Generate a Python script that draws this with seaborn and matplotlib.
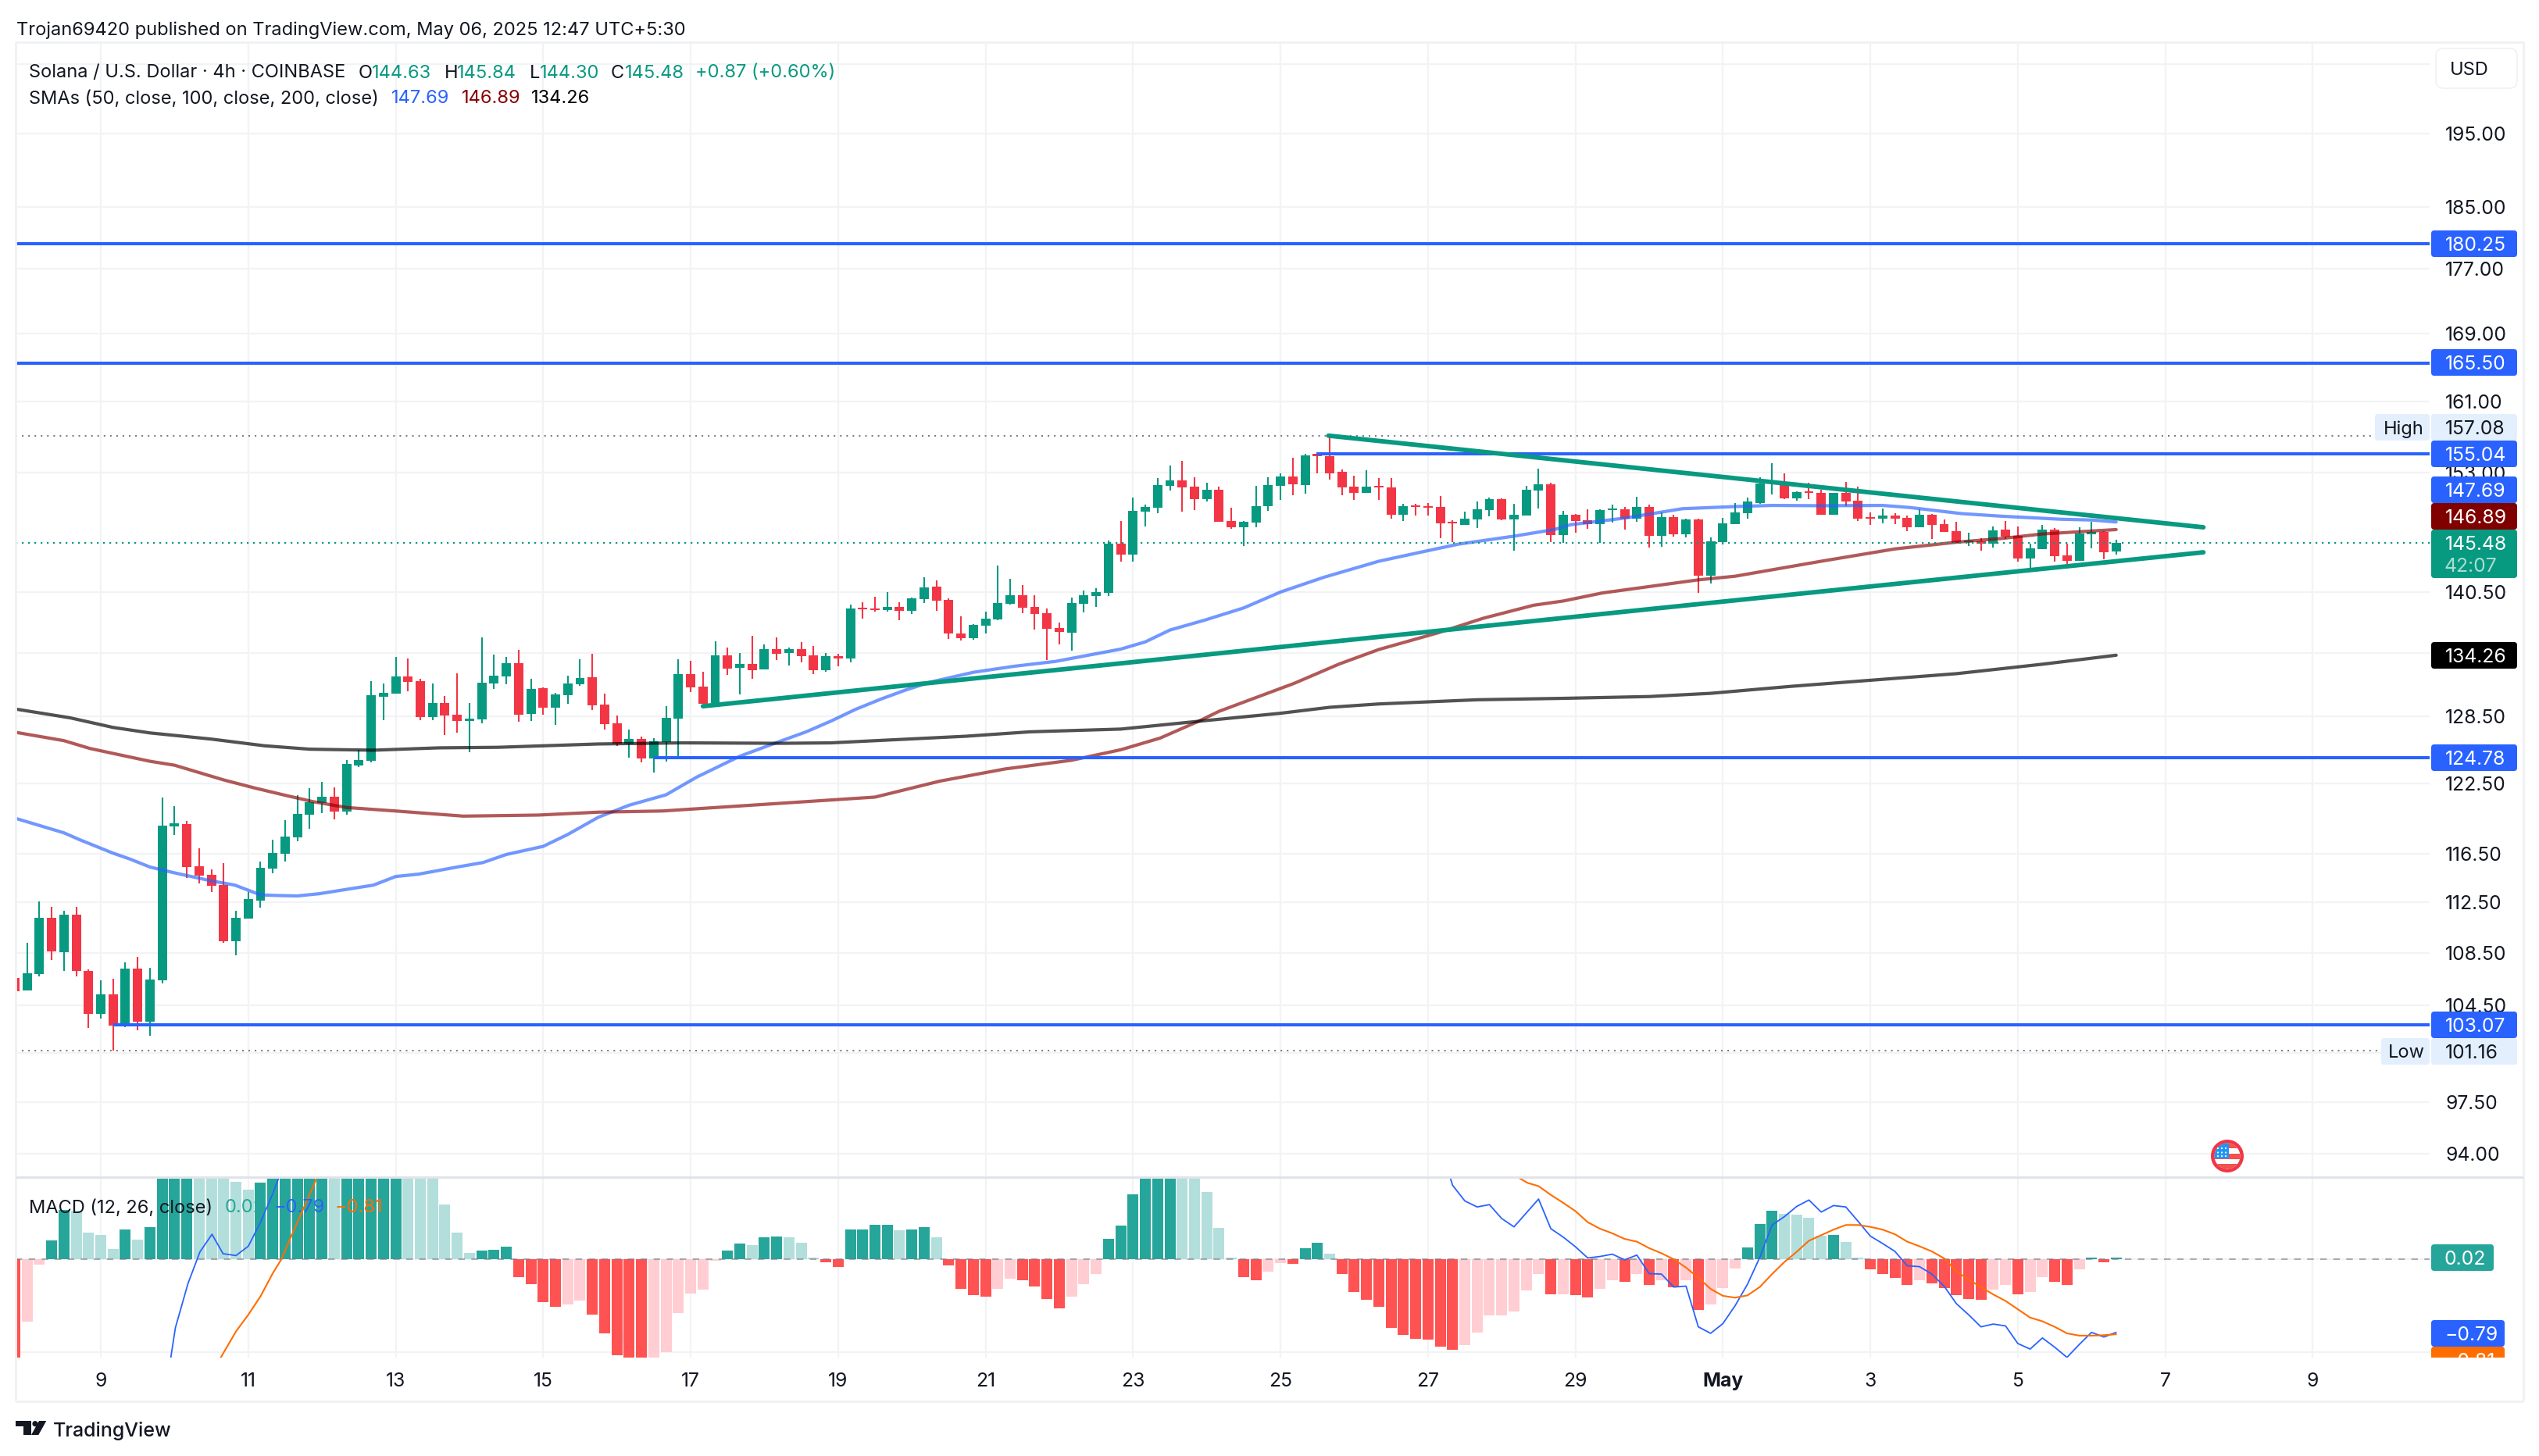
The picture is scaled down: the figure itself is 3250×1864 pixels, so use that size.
import matplotlib
matplotlib.use("Agg")
import matplotlib.pyplot as plt
import numpy as np
import pandas as pd
import seaborn as sns
from matplotlib.patches import Circle, FancyBboxPatch, Polygon, Rectangle
from matplotlib.ticker import NullLocator

# 4h candles, first one is index -7, index 0 is the bar on the "9" gridline
bar_index = list(range(-7, 165))
candle_open = [
    106.59, 105.63, 106.88, 111.26, 108.55, 111.51, 107.12, 103.86, 105.32, 103.03,
    107.28, 103.29, 106.40, 118.77, 118.98, 115.44, 114.72, 113.90, 109.42, 111.20,
    112.63, 115.24, 116.47, 117.86, 119.78, 120.77, 121.31, 120.05, 124.07, 124.47,
    130.34, 130.63, 132.24, 131.80, 128.45, 129.74, 128.64, 128.06, 128.22, 131.57,
    132.24, 133.49, 128.74, 131.15, 129.33, 130.47, 131.50, 132.17, 129.62, 127.87,
    126.06, 126.44, 124.69, 126.16, 128.29, 132.47, 131.28, 129.74, 134.26, 133.06,
    133.43, 132.90, 134.86, 134.48, 134.86, 134.25, 132.84, 134.18, 133.95, 138.92,
    138.84, 138.68, 138.99, 138.60, 139.77, 141.02, 139.70, 136.37, 135.92, 137.14,
    137.75, 139.30, 140.16, 138.99, 138.37, 136.92, 136.46, 139.30, 140.08, 140.39,
    145.43, 144.29, 148.80, 149.21, 151.56, 152.16, 151.48, 150.14, 151.14, 147.80,
    147.14, 147.64, 149.38, 151.56, 152.59, 151.65, 155.03, 154.85, 153.08, 151.48,
    150.80, 151.56, 151.39, 148.46, 149.46, 149.38, 149.30, 147.72, 147.39, 147.97,
    148.96, 150.14, 147.97, 148.38, 151.05, 151.73, 146.30, 148.44, 147.87, 147.45,
    148.95, 149.03, 148.03, 149.28, 146.22, 148.20, 146.38, 147.95, 142.12, 145.57,
    147.45, 148.61, 149.70, 151.79, 151.79, 150.20, 150.95, 150.78, 148.44, 150.78,
    149.95, 148.17, 148.03, 148.36, 148.11, 147.12, 148.44, 147.45, 146.70, 145.57,
    145.65, 145.40, 146.87, 146.22, 143.88, 144.84, 146.87, 144.20, 143.64, 146.38, 146.63, 144.63,
]
candle_high = [
    106.80, 109.28, 112.57, 112.13, 111.82, 112.13, 107.23, 106.40, 106.51, 107.77,
    108.20, 107.36, 121.25, 120.50, 119.25, 116.92, 115.18, 115.70, 111.82, 113.33,
    115.82, 117.65, 119.30, 121.46, 122.07, 122.63, 122.13, 124.54, 125.50, 131.80,
    131.57, 134.09, 133.96, 132.00, 131.57, 130.40, 132.53, 129.74, 135.98, 134.33,
    134.09, 134.76, 132.00, 131.21, 130.70, 132.30, 133.86, 134.40, 130.63, 128.58,
    127.30, 126.66, 126.56, 129.45, 133.86, 133.72, 132.70, 135.60, 135.00, 134.46,
    136.16, 135.30, 135.98, 135.00, 135.54, 135.16, 134.48, 134.40, 139.23, 139.47,
    140.00, 140.47, 139.47, 139.93, 141.98, 141.65, 139.85, 138.07, 137.30, 138.53,
    143.16, 141.82, 141.18, 140.16, 138.84, 137.45, 139.93, 140.62, 140.86, 145.76,
    147.80, 150.30, 149.55, 152.42, 153.79, 154.31, 152.50, 151.90, 151.48, 149.21,
    147.80, 151.56, 152.50, 152.93, 154.60, 155.03, 155.10, 157.08, 153.35, 152.67,
    153.27, 152.42, 152.42, 149.63, 149.63, 149.71, 150.47, 147.88, 148.80, 149.88,
    150.30, 150.22, 149.63, 151.56, 153.45, 151.90, 148.86, 148.53, 149.03, 149.03,
    149.53, 149.28, 150.38, 149.53, 148.70, 148.44, 148.03, 148.03, 146.06, 148.11,
    149.70, 150.29, 152.48, 154.03, 152.92, 150.95, 151.87, 151.12, 150.78, 151.96,
    151.46, 148.70, 149.11, 148.61, 148.36, 149.03, 148.53, 147.95, 147.70, 146.55,
    145.98, 147.20, 147.78, 147.20, 145.40, 147.37, 147.04, 145.40, 147.12, 147.70, 146.70, 145.84,
]
candle_low = [
    105.50, 105.63, 106.67, 107.95, 107.12, 106.67, 102.83, 103.52, 101.16, 102.88,
    102.67, 102.27, 106.17, 118.05, 114.47, 114.04, 113.33, 109.28, 108.30, 111.20,
    112.10, 114.87, 115.82, 117.54, 118.56, 119.90, 119.36, 119.78, 123.92, 124.35,
    128.16, 130.63, 130.86, 128.16, 128.16, 126.80, 127.00, 125.25, 127.87, 131.05,
    131.50, 128.00, 128.06, 128.64, 127.71, 129.68, 131.34, 129.10, 127.30, 125.84,
    124.75, 124.35, 123.45, 124.41, 124.91, 130.76, 129.68, 129.68, 132.40, 130.56,
    132.00, 132.90, 133.80, 133.30, 133.58, 132.47, 132.70, 133.20, 133.58, 137.83,
    138.53, 138.53, 137.68, 138.30, 139.38, 138.60, 135.85, 135.70, 135.77, 136.37,
    137.68, 139.23, 138.37, 136.76, 133.80, 135.31, 134.70, 138.45, 138.99, 140.08,
    143.56, 143.56, 147.22, 148.63, 151.05, 148.80, 148.96, 149.88, 147.72, 146.98,
    145.18, 147.14, 148.88, 150.05, 150.55, 150.72, 152.96, 152.27, 150.55, 150.05,
    150.80, 150.05, 148.05, 147.80, 148.38, 148.38, 146.00, 145.60, 147.39, 147.05,
    148.30, 147.88, 144.70, 148.38, 149.13, 145.60, 145.48, 146.55, 146.96, 145.48,
    147.61, 146.87, 147.70, 145.00, 145.08, 146.14, 146.06, 140.38, 141.32, 145.32,
    147.45, 148.03, 149.62, 150.63, 150.12, 149.95, 150.12, 148.44, 148.44, 149.37,
    147.78, 147.37, 147.53, 147.45, 146.70, 147.12, 145.90, 146.63, 145.48, 145.16,
    144.68, 145.00, 145.90, 143.56, 142.92, 144.84, 143.56, 143.32, 143.64, 144.92, 143.80, 144.30,
]
candle_close = [
    105.55, 106.93, 111.26, 108.63, 111.51, 107.12, 103.86, 105.32, 103.03, 107.28,
    103.29, 106.46, 118.83, 119.04, 115.38, 114.67, 113.84, 109.42, 111.26, 112.77,
    115.30, 116.53, 117.92, 119.84, 120.86, 121.31, 120.05, 124.20, 124.54, 130.47,
    130.70, 132.24, 131.70, 128.45, 129.74, 128.58, 128.06, 128.29, 131.64, 132.30,
    133.49, 128.64, 131.05, 129.33, 130.56, 131.57, 132.10, 129.52, 127.80, 126.06,
    126.44, 124.69, 126.22, 128.35, 132.47, 131.21, 129.68, 134.26, 133.00, 133.43,
    132.83, 134.86, 134.40, 134.86, 134.18, 132.84, 134.18, 133.95, 138.84, 138.76,
    138.68, 138.99, 138.60, 139.85, 140.94, 139.62, 136.37, 135.92, 137.22, 137.83,
    139.38, 140.16, 138.92, 138.30, 136.84, 136.54, 139.38, 140.16, 140.47, 145.43,
    144.29, 148.88, 149.30, 151.65, 152.16, 151.39, 150.14, 151.14, 147.72, 147.14,
    147.72, 149.38, 151.65, 152.59, 151.73, 154.94, 154.85, 152.88, 151.39, 150.80,
    151.48, 151.39, 148.46, 149.38, 149.30, 149.21, 147.55, 147.55, 148.05, 149.05,
    150.14, 147.97, 148.46, 151.14, 151.73, 146.33, 148.44, 147.78, 147.45, 148.95,
    149.11, 148.03, 149.28, 146.22, 148.20, 146.38, 147.95, 142.12, 145.65, 147.53,
    148.70, 149.87, 151.79, 152.05, 150.20, 150.87, 150.78, 148.44, 150.78, 149.87,
    148.03, 148.03, 148.36, 148.03, 147.12, 148.44, 147.37, 146.63, 145.48, 145.73,
    145.40, 146.79, 146.14, 143.88, 144.92, 146.87, 144.13, 143.64, 146.47, 146.63, 144.52, 145.48,
]

# moving averages, read at knots along each curve
sma50_x = [-7, -3, -1.7, 1, 2.35, 4, 6, 9, 10.9, 13, 14.5, 16, 17.8, 20, 22.2, 24, 25.9, 29, 31.1, 33, 36, 38,
           40.5, 43, 46, 48.5, 52, 55.4, 57.4, 59.4, 61.4, 63.5, 65.5, 67.5, 71, 74.3, 77.7, 83, 85, 87, 89.9,
           93, 96, 99.5, 104, 108.5, 110.5, 115, 118.3, 119.6, 124, 128.7, 133, 136, 140, 145, 147.2, 151.4,
           154.7, 159.5, 162, 164]
sma50_y = [119.49, 118.24, 117.65, 116.53, 116.05, 115.38, 114.9, 114.24, 113.9, 113.1, 113.05, 113.02, 113.2,
           113.55, 113.9, 114.6, 114.8, 115.38, 115.75, 116.42, 117.1, 118.1, 119.57, 120.6, 121.5, 123.05, 124.9,
           126.29, 127.1, 128.07, 129.15, 130.12, 130.96, 131.7, 132.63, 133.2, 133.67, 134.85, 135.55, 136.7,
           137.7, 138.88, 140.47, 141.95, 143.6, 144.83, 145.37, 146.2, 146.9, 147.4, 148.1, 149.1, 149.33, 149.45,
           149.42, 149.45, 149.23, 148.58, 148.3, 147.98, 147.9, 147.69]
sma100_x = [-7, -3, -0.9, 1, 4, 6, 10, 12.5, 15, 17.3, 20, 24, 29.5, 35.6, 40.5, 45.7, 55.4, 63, 68.3, 73.6, 79, 83,
            86.2, 89.4, 91, 97.1, 100.8, 104, 108.9, 112.5, 116.6, 119, 122.2, 130, 133, 135.2, 140, 146,
            151, 154.7, 158, 164]
sma100_y = [127.07, 126.3, 125.6, 125.15, 124.45, 124.1, 122.8, 122.1, 121.46, 120.9, 120.4, 120.1, 119.66, 119.75,
            120.0, 120.1, 120.77, 121.3, 122.7, 123.77, 124.54, 125.48, 126.53, 128.1, 128.98, 131.58, 133.43,
            134.81, 136.46, 137.86, 139.15, 139.57, 140.38, 141.7, 142.07, 142.55, 143.6, 144.87, 145.57, 145.96,
            146.43, 146.89]
sma200_x = [-7, -2.5, 1, 4, 9, 13.3, 17, 22.2, 27.5, 32.3, 40.5, 47.3, 55.4, 59.4, 70.4, 75.6, 83, 89.4,
            96, 100, 104, 112, 118.9, 126, 131, 137.5, 151, 158, 164]
sma200_y = [129.2, 128.38, 127.5, 127.0, 126.44, 125.84, 125.53, 125.44, 125.65, 125.7, 126.0, 126.1, 126.06,
            126.1, 126.7, 127.1, 127.35, 128.07, 128.8, 129.35, 129.66, 130.05, 130.18, 130.35, 130.65,
            131.3, 132.5, 133.4, 134.26]

# drawn levels and trend lines
level_prices = [180.25, 165.50, 155.04, 124.78, 103.07]
level_starts = [-7, -7, 98.9, 45, 1]
upper_trend_x = [99.9, 171.1]
upper_trend_y = [157.1, 147.13]
lower_trend_x = [49, 171.1]
lower_trend_y = [129.45, 144.52]
high_price = 157.08
low_price = 101.16
last_price = 145.48

price_ticks = [205, 195, 185, 177, 169, 161, 153, 140.5, 134.5, 128.5, 122.5, 116.5, 112.5, 108.5, 104.5,
               101, 97.5, 94]
hidden_price_ticks = [205, 134.5, 101]
time_tick_index = [0, 12, 24, 36, 48, 60, 72, 84, 96, 108, 120, 132, 144, 156, 168, 180]
time_tick_labels = ["9", "11", "13", "15", "17", "19", "21", "23", "25", "27", "29", "May", "3", "5", "7", "9"]

# MACD pane
macd_hist = [
    -1.1, -.67, -.06, .2, .53, .52, .29, .26, .11, .32,
    .21, .35, 1.0, 1.1, 1.2, 1.1, 1.0, .9, .84, .75,
    .83, 1.0, 1.2, 1.3, 1.4, 1.5, 1.2, 1.3, 1.4, 1.7,
    1.8, 1.85, 1.5, 1.2, .95, .59, .29, .065, .09, .10,
    .14, -.19, -.27, -.46, -.51, -.49, -.45, -.6, -.8, -1.04,
    -1.15, -1.2, -1.1, -1.0, -.58, -.37, -.33, -.02, .09, .17,
    .15, .24, .245, .24, .175, .015, -.03, -.08, .32, .325,
    .37, .375, .31, .32, .35, .24, -.07, -.32, -.39, -.40,
    -.32, -.21, -.23, -.29, -.43, -.53, -.40, -.27, -.16, .22,
    .36, .70, 1.0, 1.05, 1.1, .95, .87, .73, .34, .02,
    -.19, -.23, -.13, -.04, -.05, .12, .175, .06, -.155, -.35,
    -.44, -.51, -.74, -.82, -.86, -.865, -.94, -.98, -.93, -.79,
    -.61, -.605, -.56, -.34, -.155, -.38, -.375, -.39, -.41, -.32,
    -.23, -.24, -.155, -.28, -.23, -.30, -.23, -.545, -.49, -.31,
    -.10, .125, .38, .52, .49, .48, .45, .25, .26, .19,
    .02, -.105, -.155, -.2, -.28, -.23, -.26, -.31, -.39, -.43,
    -.435, -.33, -.28, -.375, -.35, -.19, -.24, -.28, -.11, .02, -.03, .02,
]
macd_x = [-7, 0, 5, 5.7, 6.07, 7.1, 8.07, 9.05, 9.95, 11, 12, 13, 14, 14.5, 15, 30, 90, 109, 109.8,
          110, 111, 112, 113, 114, 115, 117, 118, 119, 120, 121, 122, 123, 124, 125, 126, 127, 128,
          129, 130, 131, 132, 133, 134, 135, 136, 137, 138, 139, 140, 141, 142, 143, 144, 145, 146,
          147, 148, 149, 150, 151, 152, 153, 154, 155, 156, 157, 158, 159, 160, 161, 162, 163, 164]
macd_y = [-4, -3, -1.5, -1.06, -.74, -.26, .08, .27, .06, .04, .14, .40, .71, .887, 1.05, 3.5, 2.5, 1.3, .887,
          .80, .63, .565, .59, .44, .35, .65, .33, .24, .135, .014, .03, .055, -.006, .045, -.155, -.16, -.30,
          -.29, -.73, -.80, -.695, -.50, -.27, .02, .37, .46, .57, .64, .51, .58, .565, .41, .25, .17, .085,
          -.07, -.08, -.16, -.29, -.48, -.60, -.73, -.70, -.72, -.91, -.97, -.85, -.95, -1.06, -.92, -.79, -.84, -.79]
signal_x = [-7, 5, 9.77, 11, 12, 13, 14, 14.7, 15.4, 16.3, 17.6, 30, 100, 115.3, 116.1, 117, 118, 119, 120,
            121, 122, 123, 124, 125, 126, 127, 128, 129, 130, 131, 132, 133, 134, 135, 136, 137, 138, 139,
            140, 141, 142, 143, 144, 145, 146, 147, 148, 149, 150, 151, 152, 153, 154, 155, 156, 157, 158,
            159, 160, 161, 162, 163, 164]
signal_y = [-3.5, -2.0, -1.06, -.78, -.6, -.4, -.15, 0, .22, .49, .887, 2.5, 2.5, .887, .825, .79, .695, .61, .52,
            .40, .33, .28, .22, .19, .12, .065, 0, -.09, -.20, -.32, -.395, -.415, -.39, -.30, -.16, -.03, .08, .20,
            .26, .32, .37, .37, .35, .32, .27, .19, .14, .085, .01, -.13, -.22, -.30, -.38, -.45, -.54, -.63, -.67,
            -.73, -.80, -.825, -.825, -.82, -.81]

GREEN = "#089981"
RED = "#F23645"
BLUE = "#2962FF"
INK = "#131722"
GRID = "#F2F3F5"
TEXT_SIZE = 17
NUM_SIZE = 17.8

sns.set_theme(style="white")
plt.rcParams["font.family"] = ["Inter", "DejaVu Sans"]
plt.rcParams["axes.unicode_minus"] = False

W, H = 3250, 1864
fig = plt.figure(figsize=(W / 100, H / 100), dpi=100, facecolor="white")


def pane(x0, y0, x1, y1):
    return fig.add_axes([x0 / W, 1 - y1 / H, (x1 - x0) / W, (y1 - y0) / H])


ax = pane(20, 53, 3110, 1507)
ax_macd = pane(20, 1507, 3110, 1738)
xlim = (-6.93, 189.51)

# price pane
ax.set_yscale("log")
candles = pd.DataFrame({"i": bar_index, "o": candle_open, "h": candle_high, "l": candle_low, "c": candle_close})
candles["color"] = np.where(candles.c >= candles.o, GREEN, RED)
ax.vlines(candles.i, candles.l, candles.h, colors=candles.color, linewidth=1.5, zorder=3)
ax.bar(candles.i, (candles.c - candles.o).abs(), bottom=candles[["o", "c"]].min(axis=1), width=0.76,
       color=candles.color, linewidth=0, zorder=4)

sns.lineplot(x=sma50_x, y=sma50_y, ax=ax, color=BLUE, alpha=0.66, linewidth=3.0, zorder=5, estimator=None)
sns.lineplot(x=sma100_x, y=sma100_y, ax=ax, color="#880000", alpha=0.65, linewidth=3.0, zorder=5, estimator=None)
sns.lineplot(x=sma200_x, y=sma200_y, ax=ax, color="black", alpha=0.68, linewidth=3.0, zorder=5, estimator=None)

ax.plot([xlim[0], 185.06], [high_price, high_price], color="#787B86", lw=1.45, ls=(0, (1, 3)), zorder=5)
ax.plot([xlim[0], 185.5], [low_price, low_price], color="#787B86", lw=1.45, ls=(0, (1, 3)), zorder=5)
ax.plot([xlim[0], xlim[1]], [last_price, last_price], color=GREEN, lw=1.6, ls=(0, (1, 2.6)), zorder=5)

for price, start in zip(level_prices, level_starts):
    ax.plot([start, xlim[1]], [price, price], color=BLUE, lw=2.9, zorder=6, solid_capstyle="butt")
sns.lineplot(x=upper_trend_x, y=upper_trend_y, ax=ax, color=GREEN, linewidth=4.2, zorder=7, estimator=None,
             solid_capstyle="round")
sns.lineplot(x=lower_trend_x, y=lower_trend_y, ax=ax, color=GREEN, linewidth=4.2, zorder=7, estimator=None,
             solid_capstyle="round")

ax.set_xlim(*xlim)
ax.set_ylim(92.42, 208.3)
ax.yaxis.tick_right()
ax.set_yticks(price_ticks)
ax.set_yticklabels(["" if p in hidden_price_ticks else f"{p:.2f}" for p in price_ticks])
ax.yaxis.set_minor_locator(NullLocator())
ax.set_xticks(time_tick_index)
ax.tick_params(axis="x", length=0, labelbottom=False)
ax.tick_params(axis="y", length=0, pad=14.4, labelsize=NUM_SIZE, labelcolor=INK)
ax.set_xlabel("")
ax.set_ylabel("")
ax.grid(True, color=GRID, linewidth=1.6, zorder=0)
ax.set_axisbelow(True)
sns.despine(ax=ax, left=True, bottom=True, top=True, right=True)

# MACD pane
prev_hist = [macd_hist[0] + 1] + macd_hist[:-1]
hist_kind = []
for v, p in zip(macd_hist, prev_hist):
    if v >= 0:
        hist_kind.append("up_strong" if v > p else "up_weak")
    else:
        hist_kind.append("down_weak" if v > p else "down_strong")
hist_df = pd.DataFrame({"i": bar_index, "v": macd_hist, "kind": hist_kind})
sns.barplot(data=hist_df, x="i", y="v", hue="kind", native_scale=True, dodge=False, width=0.89, ax=ax_macd,
            palette={"up_strong": "#26A69A", "up_weak": "#B2DFDB", "down_strong": "#FF5252", "down_weak": "#FFCDD2"},
            saturation=1, errorbar=None, legend=False, linewidth=0, zorder=3)
ax_macd.axhline(0, color="#787B86", alpha=0.6, lw=1.5, ls=(0, (4, 4)), zorder=4)
sns.lineplot(x=macd_x, y=macd_y, ax=ax_macd, color=BLUE, linewidth=1.3, zorder=5, estimator=None)
sns.lineplot(x=signal_x, y=signal_y, ax=ax_macd, color="#FF6D00", linewidth=1.5, zorder=6, estimator=None)
ax_macd.set_xlim(*xlim)
ax_macd.set_ylim(-1.062, 0.887)
ax_macd.set_yticks([-1, 0])
ax_macd.set_yticklabels([])
ax_macd.set_xticks(time_tick_index)
ax_macd.set_xticklabels(time_tick_labels)
ax_macd.tick_params(axis="both", length=0)
ax_macd.tick_params(axis="x", pad=13.5, labelsize=NUM_SIZE, labelcolor=INK)
for t in ax_macd.get_xticklabels():
    if t.get_text() == "May":
        t.set_fontweight("bold")
ax_macd.set_xlabel("")
ax_macd.set_ylabel("")
ax_macd.grid(True, color=GRID, linewidth=1.6, zorder=0)
ax_macd.set_axisbelow(True)
sns.despine(ax=ax_macd, left=True, bottom=True, top=True, right=True)

# everything around the panes is placed in picture pixels
ov = fig.add_axes([0, 0, 1, 1], zorder=10)
ov.set_xlim(0, W)
ov.set_ylim(H, 0)
ov.axis("off")
ov.patch.set_alpha(0)


def txt(x, y, s, color=INK, size=TEXT_SIZE, ha="left", z=4, **kw):
    return ov.text(x, y, s, color=color, fontsize=size, ha=ha, va="center_baseline", zorder=z, **kw)


def box(x0, y0, x1, y1, color, edge="none", r=4.0, z=2):
    p = FancyBboxPatch((x0, y0), x1 - x0, y1 - y0, boxstyle=f"round,pad=0,rounding_size={r}",
                       facecolor=color, edgecolor=edge, linewidth=1.2, zorder=z)
    ov.add_patch(p)


# frame
for xs, ys, c, lw in [
    ([20, 3230], [53.5, 53.5], "#F0F1F3", 2.0),
    ([20, 20], [53, 1794], "#F0F1F3", 2.0),
    ([3230, 3230], [53, 1794], "#F0F1F3", 2.0),
    ([20, 3230], [1794, 1794], "#F0F1F3", 2.0),
    ([20, 3230], [1507, 1507], "#E0E3EB", 2.2),
]:
    ov.plot(xs, ys, color=c, lw=lw, zorder=1, solid_capstyle="butt")

# header and legends
txt(21, 36, "Trojan69420 published on TradingView.com, May 06, 2025 12:47 UTC+5:30")
txt(37, 91, "Solana / U.S. Dollar · 4h · COINBASE")
for x, s, c in [(459, "O", INK), (476, "144.63", GREEN), (569, "H", INK), (585, "145.84", GREEN), (678, "L", INK),
                (691, "144.30", GREEN), (782, "C", INK), (800, "145.48", GREEN), (890, "+0.87 (+0.60%)", GREEN)]:
    txt(x, 91, s, color=c)
txt(37, 124, "SMAs (50, close, 100, close, 200, close)")
for x, s, c in [(501, "147.69", BLUE), (591, "146.89", "#880000"), (680, "134.26", "black")]:
    txt(x, 124, s, color=c)
txt(37, 1544, "MACD (12, 26, close)")
for x, s, c in [(288, "0.02", "#26A69A"), (351, "−0.79", BLUE), (429, "−0.81", "#FF6D00")]:
    txt(x, 1544, s, color=c)

# USD button
box(3118, 62, 3222, 113, "white", edge="#F0F1F3", r=10)
txt(3161, 88, "USD", ha="center")

# price scale tags: y is where the tag sits, the platform pushes them apart
for y0, y1, s, c in [(295, 329, "180.25", BLUE), (447, 481, "165.50", BLUE), (564, 598, "155.04", BLUE),
                     (610, 644, "147.69", BLUE), (644, 678, "146.89", "#800000"), (822, 856, "134.26", "black"),
                     (953, 987, "124.78", BLUE), (1295, 1329, "103.07", BLUE)]:
    box(3112, y0, 3222, y1, c, z=3)
    txt(3130, (y0 + y1) / 2, s, color="white", size=NUM_SIZE)
box(3112, 678, 3222, 740, GREEN, z=3)
txt(3130, 695, "145.48", color="white", size=NUM_SIZE)
txt(3129, 723, "42:07", color="#A8DDD1", size=NUM_SIZE)

box(3040, 530, 3110, 564, "#E3EFFD", z=3)
box(3112, 530, 3222, 564, "#E3EFFD", z=3)
txt(3051, 547, "High")
txt(3130, 547, "157.08", size=NUM_SIZE)
box(3048, 1329, 3110, 1363, "#E3EFFD", z=3)
box(3112, 1329, 3222, 1363, "#E3EFFD", z=3)
txt(3057, 1346, "Low")
txt(3130, 1346, "101.16", size=NUM_SIZE)

# MACD scale tags
box(3112, 1593, 3192, 1627, "#26A69A", z=3)
txt(3129, 1610, "0.02", color="white", size=NUM_SIZE)
box(3112, 1690, 3206, 1724, BLUE, z=3)
txt(3129, 1707, "−0.79", color="white", size=NUM_SIZE)
box(3112, 1724, 3206, 1758, "#FF6D00", z=3)
txt(3129, 1741, "−0.81", color="white", size=NUM_SIZE)
ov.add_patch(Rectangle((3110, 1738), 118, 54, facecolor="white", edgecolor="none", zorder=5))

# US flag event marker
cx, cy = 2851, 1480
ov.add_patch(Circle((cx, cy), 21, facecolor=RED, edgecolor="none", zorder=3))
inner = Circle((cx, cy), 16.5, facecolor="white", edgecolor="none", zorder=4)
ov.add_patch(inner)
for sy, sh in [(-17, 7), (-3, 7), (10, 8)]:
    band = Rectangle((cx - 17, cy + sy), 34, sh, facecolor="#F05350", edgecolor="none", zorder=5)
    ov.add_patch(band)
    band.set_clip_path(inner)
canton = Rectangle((cx - 17, cy - 17), 19, 20, facecolor="#2196F3", edgecolor="none", zorder=6)
ov.add_patch(canton)
canton.set_clip_path(inner)
for dx in (-12, -7, -2):
    for dy in (-10, -4.5, 0):
        ov.add_patch(Circle((cx + dx, cy + dy), 1.1, facecolor="white", edgecolor="none", zorder=7))

# TradingView logo
logo = "#131722"
ov.add_patch(Polygon([(20, 1819), (40, 1819), (40, 1837), (30, 1837), (30, 1826), (20, 1826)], facecolor=logo,
                     edgecolor="none"))
ov.add_patch(Circle((45, 1822.7), 3.6, facecolor=logo, edgecolor="none"))
ov.add_patch(Polygon([(50, 1819), (59.3, 1819), (49.3, 1837), (40, 1837)], facecolor=logo, edgecolor="none"))
txt(68, 1829, "TradingView", size=18, color=logo, fontweight="medium")

fig.savefig("out.png", dpi=100, facecolor="white")
